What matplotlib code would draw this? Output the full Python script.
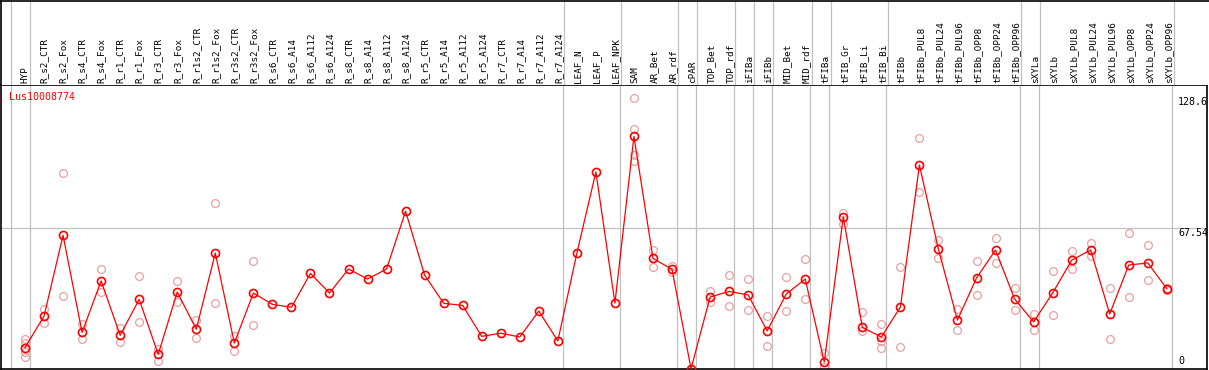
import matplotlib
matplotlib.use('Agg')
import matplotlib.pyplot as plt

# sample names, in plotting order
samples = ['HYP', 'R_s2_CTR', 'R_s2_Fox', 'R_s4_CTR', 'R_s4_Fox', 'R_r1_CTR', 'R_r1_Fox',
           'R_r3_CTR', 'R_r3_Fox', 'R_r1s2_CTR', 'R_r1s2_Fox', 'R_r3s2_CTR', 'R_r3s2_Fox',
           'R_s6_CTR', 'R_s6_A14', 'R_s6_A112', 'R_s6_A124', 'R_s8_CTR', 'R_s8_A14',
           'R_s8_A112', 'R_s8_A124', 'R_r5_CTR', 'R_r5_A14', 'R_r5_A112', 'R_r5_A124',
           'R_r7_CTR', 'R_r7_A14', 'R_r7_A112', 'R_r7_A124', 'LEAF_N', 'LEAF_P', 'LEAF_NPK',
           'SAM', 'AR_Bet', 'AR_rdf', 'cPAR', 'TOP_Bet', 'TOP_rdf', 'iFIBa', 'iFIBb',
           'MID_Bet', 'MID_rdf', 'tFIBa', 'tFIB_Gr', 'tFIB_Li', 'tFIB_Bi', 'tFIBb',
           'tFIBb_PUL8', 'tFIBb_PUL24', 'tFIBb_PUL96', 'tFIBb_OPP8', 'tFIBb_OPP24',
           'tFIBb_OPP96', 'sXYLa', 'sXYLb', 'sXYLb_PUL8', 'sXYLb_PUL24', 'sXYLb_PUL96',
           'sXYLb_OPP8', 'sXYLb_OPP24', 'sXYLb_OPP96']

# mean expression
means = [10.2, 25.3, 63.9, 17.5, 42.1, 16.1, 33.3, 7.0, 36.8, 19.0, 55.4, 12.4, 36.3,
         30.9, 29.5, 45.7, 36.3, 47.8, 43.0, 47.8, 75.4, 44.9, 31.4, 30.4, 15.6,
         17.1, 15.3, 27.7, 13.4, 55.4, 94.2, 31.5, 111.2, 52.9, 47.6, 0.1, 34.4, 37.1,
         35.4, 18.2, 35.8, 43.0, 3.3, 72.7, 19.9, 15.3, 29.6, 97.5, 57.2, 23.4, 43.5,
         56.9, 33.5, 22.5, 36.3, 52.0, 56.9, 26.3, 49.7, 50.7, 38.4]

# individual replicates (empty where none shown)
replicates = [[14.3, 12.3, 8.0, 5.9], [28.7, 21.8], [93.5, 34.7], [21.4, 14.2], [47.6, 36.6],
              [19.6, 12.7], [44.3, 22.3], [9.7, 4.0], [42.1, 31.9], [23.4, 14.7],
              [79.2, 31.4], [15.8, 8.8], [51.5, 20.9],
              [], [], [], [], [], [], [], [], [], [], [], [], [], [], [], [], [], [], [],
              [129.4, 114.6, 102.3, 99.4], [56.7, 48.6], [49.4, 46.5], [],
              [37.3, 31.9], [44.8, 30.0], [42.9, 28.2], [25.2, 10.8], [43.8, 27.7],
              [52.4, 33.3], [7.5, 1.1], [74.5, 69.5], [27.1, 18.2], [21.4, 13.5, 9.9],
              [48.8, 10.5], [110.3, 84.5], [61.7, 52.9], [28.7, 18.6], [51.5, 35.4],
              [62.5, 50.5], [38.6, 28.1], [26.3, 18.5], [46.7, 25.7], [56.3, 47.6],
              [60.1, 54.0], [38.6, 14.3], [64.9, 34.3], [59.3, 42.4], [38.9, 38.0]]

# tissue groups end after these sample indices
group_ends = [-1, 0, 28, 31, 34, 35, 37, 38, 39, 41, 42, 45, 52, 53, 60]

gene = 'Lus10008774'
y_max = 128.6
y_mid = 67.54

W, H = 1209, 370
fig = plt.figure(figsize=(W / 100, H / 100), dpi=100)
font = 'DejaVu Sans Mono'

x0, dx = 25, 19.03
xlim = ((1 - x0) / dx, (1207 - x0) / dx)
scale = 2.092
top_val = (369 - 85) / scale

ax = fig.add_axes([1 / W, 1 / H, 1206 / W, 284 / H])
hd = fig.add_axes([1 / W, 285 / H, 1208 / W, 84.5 / H])

for a in (ax, hd):
    a.set_xlim(*xlim)
    a.set_xticks([])
    a.set_yticks([])
    for g in group_ends:
        a.axvline(g + 0.26, color='#c0c0c0', lw=0.9, zorder=0)
    for s in a.spines.values():
        s.set_color('black')
        s.set_linewidth(1.2)

hd.set_ylim(0, 1)
hd.spines['right'].set_visible(False)
hd.spines['bottom'].set_visible(False)
for i, name in enumerate(samples):
    hd.text(i, 0.025, name, rotation=90, ha='center', va='bottom',
            fontsize=6.7, family=font)

ax.set_ylim(0, top_val)
ax.axhline(y_mid, color='#c0c0c0', lw=0.9, zorder=0)

xs = list(range(len(samples)))
for i, reps in enumerate(replicates):
    if reps:
        ax.plot([i] * len(reps), reps, 'o', mfc='none', mec='#eba0a0',
                ms=5.6, mew=0.9, clip_on=False, zorder=2)
ax.plot(xs, means, '-', color='red', lw=0.9, zorder=3, clip_on=False)
ax.plot(xs, means, 'o', mfc='none', mec='red', ms=5.8, mew=1.2, zorder=4, clip_on=False)

ax.text(8 / 1206, (369 - 92) / 284, gene, transform=ax.transAxes, color='red',
        fontsize=7.2, family=font, va='top', ha='left')
yt = ax.get_yaxis_transform()
ax.text(1177 / 1206, y_max + 1.2, str(y_max), transform=yt, fontsize=7.2,
        family=font, va='top', ha='left')
ax.text(1177 / 1206, y_mid - 0.2, str(y_mid), transform=yt, fontsize=7.2,
        family=font, va='top', ha='left')
ax.text(1177 / 1206, 1.4, '0', transform=yt, fontsize=7.2,
        family=font, va='bottom', ha='left')

fig.savefig('out.png', dpi=100)
